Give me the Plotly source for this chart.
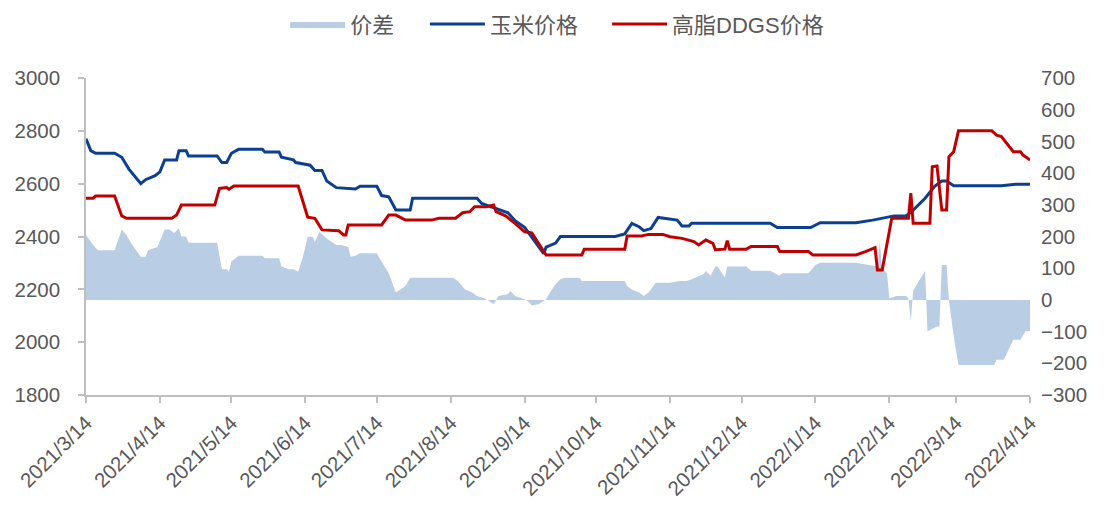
import plotly.graph_objects as go

# ---------------- data ----------------
corn_dates = ["2021-03-14","2021-03-16","2021-03-18","2021-03-26","2021-03-29","2021-04-01","2021-04-06",
              "2021-04-08","2021-04-12","2021-04-14","2021-04-16","2021-04-21","2021-04-22","2021-04-25",
              "2021-04-26","2021-05-08","2021-05-10","2021-05-12","2021-05-14","2021-05-17","2021-05-27",
              "2021-05-28","2021-06-03","2021-06-04","2021-06-09","2021-06-10","2021-06-16","2021-06-18",
              "2021-06-21","2021-06-23","2021-06-27","2021-07-05","2021-07-07","2021-07-14","2021-07-16",
              "2021-07-19","2021-07-22","2021-07-28","2021-07-29","2021-08-25","2021-08-27","2021-09-02",
              "2021-09-07","2021-09-10","2021-09-14","2021-09-22","2021-09-23","2021-09-27","2021-09-29",
              "2021-10-22","2021-10-26","2021-10-29","2021-11-01","2021-11-03","2021-11-06","2021-11-09",
              "2021-11-14","2021-11-17","2021-11-19","2021-11-22","2021-11-23","2021-12-26","2021-12-29",
              "2022-01-12","2022-01-16","2022-01-31","2022-02-07","2022-02-16","2022-02-21","2022-02-24",
              "2022-03-01","2022-03-05","2022-03-08","2022-03-10","2022-03-13","2022-04-02","2022-04-08",
              "2022-04-14"]
corn_values = [2770,2725,2715,2715,2700,2655,2600,
               2615,2630,2645,2690,2690,2725,2725,
               2705,2705,2680,2680,2715,2730,2730,
               2720,2720,2700,2690,2680,2670,2650,
               2650,2610,2585,2580,2590,2590,2555,
               2550,2500,2500,2545,2545,2525,2505,
               2490,2460,2435,2335,2360,2375,2400,
               2400,2410,2450,2437,2422,2430,2472,
               2465,2462,2440,2440,2450,2450,2434,
               2434,2452,2452,2462,2478,2478,2500,
               2545,2590,2610,2610,2592,2592,2598,
               2598]

ddgs_dates = ["2021-03-14","2021-03-17","2021-03-18","2021-03-26","2021-03-29","2021-03-31","2021-04-19",
              "2021-04-21","2021-04-23","2021-05-07","2021-05-09","2021-05-12","2021-05-13","2021-05-15",
              "2021-06-11","2021-06-15","2021-06-18","2021-06-21","2021-06-28","2021-06-30","2021-07-01",
              "2021-07-02","2021-07-16","2021-07-19","2021-07-22","2021-07-26","2021-08-06","2021-08-09",
              "2021-08-16","2021-08-19","2021-08-22","2021-08-24","2021-08-29","2021-09-01","2021-09-02",
              "2021-09-06","2021-09-10","2021-09-14","2021-09-17","2021-09-23","2021-10-08","2021-10-09",
              "2021-10-26","2021-10-27","2021-11-02","2021-11-05","2021-11-11","2021-11-14","2021-11-19",
              "2021-11-24","2021-11-26","2021-11-29","2021-12-02","2021-12-03","2021-12-07","2021-12-08",
              "2021-12-09","2021-12-16","2021-12-18","2021-12-29","2021-12-30","2022-01-11","2022-01-13",
              "2022-01-31","2022-02-04","2022-02-08","2022-02-09","2022-02-11","2022-02-15","2022-02-22",
              "2022-02-23","2022-02-24","2022-03-03","2022-03-04","2022-03-06","2022-03-08","2022-03-10",
              "2022-03-11","2022-03-13","2022-03-15","2022-03-29","2022-03-31","2022-04-02","2022-04-07",
              "2022-04-10","2022-04-11","2022-04-13","2022-04-14"]
ddgs_values = [2545,2545,2553,2553,2478,2469,2469,
               2481,2519,2519,2582,2585,2579,2591,
               2591,2473,2469,2425,2422,2406,2406,
               2444,2444,2481,2481,2462,2462,2469,
               2469,2490,2494,2513,2513,2519,2494,
               2478,2450,2418,2414,2330,2330,2352,
               2352,2402,2402,2408,2408,2399,2393,
               2381,2368,2387,2374,2350,2352,2384,
               2352,2352,2362,2362,2343,2343,2330,
               2330,2343,2358,2273,2273,2469,2469,
               2564,2450,2450,2664,2667,2500,2500,
               2702,2721,2800,2800,2784,2778,2721,
               2721,2709,2696,2690]

spread_dates = ["2021-03-14","2021-03-17","2021-03-19","2021-03-26","2021-03-29","2021-03-31","2021-04-02",
                "2021-04-06","2021-04-08","2021-04-09","2021-04-13","2021-04-16","2021-04-18","2021-04-20",
                "2021-04-22","2021-04-23","2021-04-25","2021-04-26","2021-05-08","2021-05-10","2021-05-12",
                "2021-05-13","2021-05-14","2021-05-17","2021-05-27","2021-05-28","2021-06-03","2021-06-04",
                "2021-06-07","2021-06-09","2021-06-11","2021-06-13","2021-06-15","2021-06-17","2021-06-18",
                "2021-06-20","2021-06-23","2021-06-27","2021-06-29","2021-07-02","2021-07-03","2021-07-05",
                "2021-07-07","2021-07-14","2021-07-16","2021-07-19","2021-07-22","2021-07-23","2021-07-26",
                "2021-07-28","2021-08-15","2021-08-17","2021-08-20","2021-08-23","2021-08-25","2021-08-28",
                "2021-08-30","2021-09-01","2021-09-03","2021-09-07","2021-09-08","2021-09-10","2021-09-14",
                "2021-09-16","2021-09-17","2021-09-20","2021-09-23","2021-09-25","2021-09-27","2021-09-29",
                "2021-10-01","2021-10-07","2021-10-08","2021-10-26","2021-10-27","2021-10-29","2021-11-01",
                "2021-11-03","2021-11-05","2021-11-08","2021-11-14","2021-11-18","2021-11-21","2021-11-23",
                "2021-11-26","2021-11-28","2021-11-29","2021-12-01","2021-12-03","2021-12-04","2021-12-07",
                "2021-12-08","2021-12-16","2021-12-18","2021-12-26","2021-12-28","2021-12-30","2021-12-31",
                "2022-01-11","2022-01-14","2022-01-16","2022-01-31","2022-02-08","2022-02-09","2022-02-10",
                "2022-02-11","2022-02-13","2022-02-14","2022-02-17","2022-02-21","2022-02-22","2022-02-23",
                "2022-02-24","2022-03-01","2022-03-02","2022-03-06","2022-03-07","2022-03-08","2022-03-10",
                "2022-03-11","2022-03-13","2022-03-15","2022-03-30","2022-03-31","2022-04-03","2022-04-07",
                "2022-04-10","2022-04-12","2022-04-14"]
spread_values = [205,173,157,157,222,205,178,
                 136,136,157,167,222,222,211,
                 225,200,200,180,180,97,97,
                 89,121,139,139,131,131,105,
                 97,97,89,136,199,199,183,
                 215,194,173,173,167,136,139,
                 147,147,121,84,23,28,44,
                 70,70,60,33,23,12,5,
                 -3,-14,12,18,28,12,2,
                 -8,-18,-13,2,28,49,65,
                 70,70,60,60,44,33,23,
                 12,23,54,54,60,60,65,
                 76,81,91,76,105,105,70,
                 105,105,92,92,84,76,84,
                 84,110,117,117,105,105,183,
                 100,84,5,12,12,5,-68,
                 30,91,-100,-84,-84,110,110,
                 -3,-115,-205,-205,-189,-189,-126,
                 -126,-100,-97]

tick_dates = ["2021-03-14","2021-04-14","2021-05-14","2021-06-14","2021-07-14","2021-08-14","2021-09-14",
              "2021-10-14","2021-11-14","2021-12-14","2022-01-14","2022-02-14","2022-03-14","2022-04-14"]
tick_labels = ["2021/3/14","2021/4/14","2021/5/14","2021/6/14","2021/7/14","2021/8/14","2021/9/14",
               "2021/10/14","2021/11/14","2021/12/14","2022/1/14","2022/2/14","2022/3/14","2022/4/14"]

series_names = ["价差", "玉米价格", "高脂DDGS价格"]

# ---------------- figure ----------------
FONT = "Liberation Sans, Noto Sans CJK SC, sans-serif"
GREY = "#595959"
AXIS = "#bfbfbf"
TICK_SIZE = 20.5

fig = go.Figure()
fig.add_trace(go.Scatter(
    x=spread_dates, y=spread_values, name=series_names[0], yaxis="y", legend="legend",
    mode="lines", fill="tozeroy", fillcolor="#b9cde5",
    line=dict(width=0, color="#b9cde5"),
))
fig.add_trace(go.Scatter(
    x=corn_dates, y=corn_values, name=series_names[1], yaxis="y2", legend="legend2",
    mode="lines", line=dict(color="#0b3f8f", width=3),
))
fig.add_trace(go.Scatter(
    x=ddgs_dates, y=ddgs_values, name=series_names[2], yaxis="y2", legend="legend3",
    mode="lines", line=dict(color="#c00000", width=3),
))

legend_common = dict(orientation="h", xanchor="left", y=1.17, yanchor="middle",
                     font=dict(size=22, color=GREY), itemwidth=55,
                     bgcolor="rgba(0,0,0,0)")

fig.update_layout(
    width=1104, height=511,
    margin=dict(l=78, r=82, t=70, b=124, autoexpand=False),
    paper_bgcolor="white", plot_bgcolor="white",
    font=dict(family=FONT, size=TICK_SIZE, color=GREY),
    showlegend=True,
    legend=dict(x=0.211, **legend_common),
    legend2=dict(x=0.359, **legend_common),
    legend3=dict(x=0.552, **legend_common),
    xaxis=dict(
        type="date", range=[tick_dates[0], tick_dates[-1]],
        tickmode="array", tickvals=tick_dates, ticktext=tick_labels,
        tickangle=-45, showline=True, linecolor=AXIS, linewidth=1.5,
        ticks="outside", ticklen=6, tickcolor=AXIS, tickwidth=1.5,
        showgrid=False, zeroline=False, tickfont=dict(size=TICK_SIZE, color=GREY),
        automargin=False,
    ),
    yaxis=dict(
        side="right", range=[-300, 700], dtick=100, tick0=0,
        showgrid=False, zeroline=False, showline=False, ticks="",
        tickfont=dict(size=TICK_SIZE, color=GREY), ticklabelstandoff=10, automargin=False,
    ),
    yaxis2=dict(
        side="left", overlaying="y", anchor="x", range=[1800, 3000], dtick=200, tick0=1800,
        showgrid=False, zeroline=False, showline=True, linecolor=AXIS, linewidth=1.5,
        ticks="outside", ticklen=6, tickcolor=AXIS, tickwidth=1.5,
        tickfont=dict(size=TICK_SIZE, color=GREY), ticklabelstandoff=14, automargin=False,
    ),
)

fig.write_html("out.html")
